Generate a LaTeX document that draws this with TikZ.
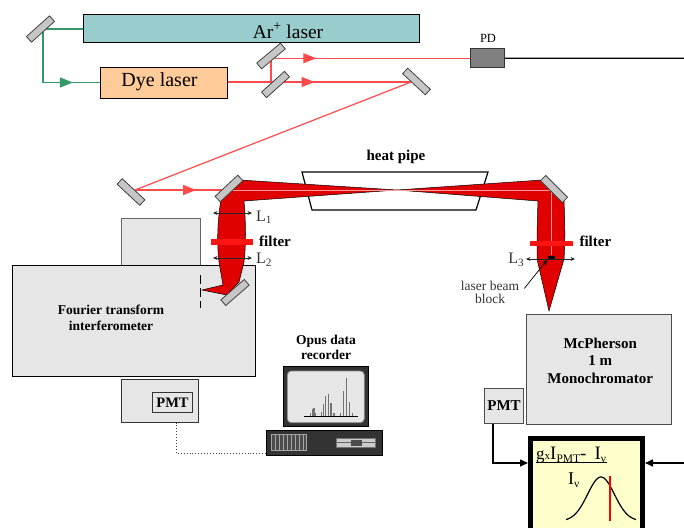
\documentclass[tikz,border=0pt]{standalone}
\usepackage{fontspec}
\setmainfont{Liberation Serif}
\usetikzlibrary{arrows.meta,decorations.markings}

\definecolor{argon}{HTML}{99CCCC}
\definecolor{dyeorange}{HTML}{FFCC99}
\definecolor{pumpgreen}{HTML}{339966}
\definecolor{probered}{HTML}{FF4A4A}
\definecolor{glowred}{HTML}{E10000}
\definecolor{filterred}{HTML}{FF1414}
\definecolor{panelgray}{HTML}{E6E6E6}
\definecolor{mirrorgray}{HTML}{C6C6C6}
\definecolor{scopeyellow}{HTML}{FFFFCC}
\definecolor{labelgray}{HTML}{333333}

% small lowered index for the display formula
\newcommand{\lowidx}[1]{\raisebox{-3pt}{\fontsize{11.5}{11.5}\selectfont #1}}

\begin{document}
\begin{tikzpicture}[x=1pt,y=-1pt,
  cornerbox/.style={draw, line width=1pt, inner sep=0pt, anchor=north west},
  mirror/.style={draw=black!75, fill=mirrorgray, line width=0.8pt, minimum width=31pt, minimum height=7.5pt, inner sep=0pt},
  beamline/.style={draw=probered, line width=1.2pt},
  arrowat/.style={postaction={decorate}, decoration={markings, mark=at position #1 with {\arrow{Triangle[length=13pt,width=10pt]}}}},
  lens/.style={{Stealth[length=4.5pt,width=4pt]}-{Stealth[length=4.5pt,width=4pt]}, line width=0.7pt, draw=black!85},
  lenslabel/.style={font=\fontsize{16}{16}\selectfont, text=labelgray, inner sep=0pt},
  filterbar/.style={fill=filterred, inner sep=0pt},
  boldlabel/.style={font=\fontsize{15}{15}\selectfont\bfseries, inner sep=0pt},
  wire/.style={line width=1.5pt, -{Triangle[length=8pt,width=7pt]}},
]
\useasboundingbox (0,0) rectangle (684,527);
\begin{scope}
\clip (0,0) rectangle (684,527);

% ---------------- lasers ----------------
\node[cornerbox, fill=argon, minimum width=336pt, minimum height=28pt] (ar) at (83,14.5) {};
\node[anchor=base, inner sep=0pt, font=\fontsize{19.5}{19.5}\selectfont] (artext) at (288,38.3) {Ar\textsuperscript{+} laser};
\node[cornerbox, fill=dyeorange, minimum width=127pt, minimum height=31pt] (dye) at (100,66.5) {};
\node[anchor=base, inner sep=0pt, font=\fontsize{20}{20}\selectfont] (dyetext) at (159.5,86) {Dye laser};

% pump beam
\coordinate (pumpturn) at (43,29);
\draw[pumpgreen, line width=1.2pt, arrowat=0.82] (ar.west) -- (pumpturn) -- (pumpturn |- dye.west) -- (dye.west);

% photodiode
\node[cornerbox, fill=black!50, draw=black!80, minimum width=34pt, minimum height=18.5pt] (pd) at (470,48.5) {};
\node[anchor=base, inner sep=0pt, font=\fontsize{12.5}{12.5}\selectfont] (pdtext) at (488,42.7) {PD};
\coordinate (pdcable) at (684,58.3);
\draw[line width=1.2pt] (pd.east) -- (pdcable);

% dye laser output, pick-off and fold
\coordinate (splitpt) at (271,82);
\coordinate (foldpt) at (411,82);
\coordinate (steerpt) at (135,190);
\draw[beamline, arrowat=0.473] (dye.east |- splitpt) -- (foldpt);
\draw[beamline, arrowat=0.31] (splitpt) -- (splitpt |- pd.west) -- (pd.west);
\draw[beamline] (foldpt) -- (steerpt);

% ---------------- Fourier transform interferometer ----------------
\node[cornerbox, fill=panelgray, draw=black!60, line width=1.3pt, minimum width=79pt, minimum height=49pt] (fttop) at (121,218) {};
\node[cornerbox, fill=panelgray, minimum width=243pt, minimum height=111pt] (ft) at (12,265) {};
\node[align=center, inner sep=0pt, font=\fontsize{13.5}{16}\selectfont\bfseries] (fttext) at (111,317.5) {Fourier transform\\interferometer};
\node[cornerbox, fill=panelgray, draw=black!80, minimum width=77pt, minimum height=43pt] (ftpmtbox) at (121,378.5) {};
\node[draw=black!80, line width=1pt, fill=panelgray, minimum width=40pt, minimum height=20pt, inner sep=0pt, font=\fontsize{14.5}{14.5}\selectfont\bfseries] (ftpmt) at (172.5,402.5) {PMT};

% ---------------- heat pipe ----------------
\draw[line width=1.2pt, fill=white] (302,172) -- (488,172) -- (476,210) -- (312,210) -- cycle;
\node[boldlabel, anchor=base] (heattext) at (396,160.5) {heat pipe};

% collected fluorescence, left arm
\fill[glowred, draw=black, line width=0.5pt]
  (240,180) -- (397,190) -- (244,201)
  .. controls (246,225) and (246,245) .. (244,262)
  -- (239,282) -- (227,295) -- (202,290) -- (223,285)
  -- (219,262) .. controls (217,245) and (217,225) .. (221,199) -- cycle;
% collected fluorescence, right arm
\fill[glowred, draw=black, line width=0.5pt]
  (397,190) -- (542,180) -- (564,201)
  .. controls (565,225) and (565,245) .. (564,259)
  -- (549,311) -- (537,259)
  .. controls (537,245) and (537,225) .. (538,201) -- cycle;

% probe beam into the heat pipe
\coordinate (probein) at (229,190);
\coordinate (probeturn) at (551,190);
\draw[beamline, arrowat=0.65] (steerpt) -- (probein);
\node[fill=black, minimum width=7pt, minimum height=4pt, inner sep=0pt] (block) at (551,257.5) {};
\draw[draw=probered!55!white, line width=0.9pt] (probein) -- (probeturn) -- (block.north);

% lenses and filters
\draw[lens] (213,213) -- (252,213);
\draw[lens] (213,258) -- (252,258);
\draw[lens] (526,259) -- (575,259);
\node[lenslabel, anchor=base west] (l1) at (256,221) {L\textsubscript{1}};
\node[lenslabel, anchor=base west] (l2) at (256,263.5) {L\textsubscript{2}};
\node[lenslabel, anchor=base east] (l3) at (524.5,263.5) {L\textsubscript{3}};
\node[filterbar, minimum width=42pt, minimum height=6pt] (filterL) at (232,242) {};
\node[filterbar, minimum width=43pt, minimum height=5.5pt] (filterR) at (551.5,243.5) {};
\node[boldlabel, anchor=base west] (filterLtext) at (259,246) {filter};
\node[boldlabel, anchor=base west] (filterRtext) at (579.3,246.7) {filter};

% beam block label
\node[align=center, inner sep=0pt, text=labelgray, font=\fontsize{13.5}{13.3}\selectfont] (blocktext) at (490,292.5) {laser beam\\block};
\draw[-{Stealth[length=6pt,width=4.5pt]}, line width=0.7pt] ([xshift=5pt,yshift=4pt]blocktext.east) -- (block.south west);

% ---------------- mirrors ----------------
\node[mirror, rotate=42] (mPump) at (40.5,29) {};
\node[mirror, rotate=40] (mUp) at (271,56) {};
\node[mirror, rotate=42] (mSplit) at (275.5,84.5) {};
\node[mirror, rotate=-43] (mFold) at (416.5,81.5) {};
\node[mirror, rotate=-43] (mSteer) at (131,192) {};
\node[mirror, rotate=43] (mHeatL) at (229,188.5) {};
\node[mirror, rotate=-45] (mHeatR) at (554,189) {};
\node[mirror, rotate=41] (mFT) at (235,292.5) {};

% entrance aperture of the interferometer
\draw[line width=1pt, dash pattern=on 9pt off 4pt] (200.3,275) -- (200.3,308);

% ---------------- data recorder ----------------
\node[align=center, inner sep=0pt, font=\fontsize{13.5}{15}\selectfont\bfseries] (opustext) at (326,347) {Opus data\\recorder};
\node[cornerbox, fill=black!80, draw=black, minimum width=85pt, minimum height=60pt] (monitor) at (283,366) {};
\draw[fill=panelgray, draw=black!45, line width=0.8pt, rounded corners=4pt] (287.3,371) rectangle (364.3,422.7);
\draw[line width=0.9pt] (304,416) -- (358,416);
\foreach \bx/\by in {310.7/413,312.3/409,314/408,315.7/413,321.7/412,323.3/404,325.7/396,328.3/394,331/403,334/413,340.7/413,343.3/391,346.7/378,349.3/402,352.3/413}
  \draw[black!55, line width=1.1pt] (\bx,416) -- (\bx,\by);
\node[cornerbox, fill=black!80, draw=black, minimum width=116pt, minimum height=25pt] (cpu) at (266,429.5) {};
\fill[black!70] (271.7,434) rectangle (306.7,450.7);
\foreach \vx in {275,279,283,287,291,295,299,303}
  \draw[black!35, line width=1pt] (\vx,434.5) -- (\vx,450.2);
\draw[black!35, line width=0.8pt] (271.7,434) rectangle (306.7,450.7);
\draw[fill=black!20, draw=black!55, line width=0.8pt] (336.7,438.3) rectangle (375,447.3);
\draw[black!60, line width=0.7pt] (336.7,442.8) -- (375,442.8);
\fill[black!70] (350.7,440) rectangle (361.7,446);

% signal cable from the interferometer detector
\coordinate (opusport) at (293,453);
\draw[black!75, line width=0.9pt, dotted] ([xshift=16.5pt]ftpmtbox.south) |- (opusport);

% ---------------- monochromator ----------------
\node[cornerbox, fill=panelgray, draw=black!70, minimum width=145pt, minimum height=110pt] (mono) at (526,314) {};
\node[align=center, inner sep=0pt, font=\fontsize{15}{17.5}\selectfont\bfseries] (monotext) at (600.2,360.7) {McPherson\\1 m\\Monochromator};
\node[cornerbox, fill=panelgray, draw=black!70, minimum width=39pt, minimum height=35pt, font=\fontsize{15}{15}\selectfont\bfseries] (pmtR) at (484,387.5) {PMT};

% ---------------- normalisation display ----------------
\node[cornerbox, fill=scopeyellow, line width=5pt, minimum width=112pt, minimum height=130pt] (scope) at (528,436) {};
\node[anchor=base west, inner sep=0pt, font=\fontsize{19}{19}\selectfont] (num) at (536,459.3) {{\fontsize{17}{17}\selectfont g}{\fontsize{11}{11}\selectfont x}I\lowidx{PMT}-\hspace{8pt}I\lowidx{ν}};
\draw[line width=0.8pt] (536,462.8) -- (607,462.8);
\node[anchor=base west, inner sep=0pt, font=\fontsize{18}{18}\selectfont] (den) at (568,484.3) {I\lowidx{ν}};
\draw[line width=1.2pt] plot[domain=566:636, samples=80] (\x, {521-44*exp(-((\x-601)/19)^2)});
\draw[red, line width=1.5pt] (610,476) -- (610,521);

\draw[wire] ([xshift=9pt]pmtR.south west) |- ([yshift=-27pt]scope.north west);
\coordinate (refcable) at (684,463);
\draw[wire] (refcable) -- ([yshift=-27pt]scope.north east);

\end{scope}
\end{tikzpicture}
\end{document}
